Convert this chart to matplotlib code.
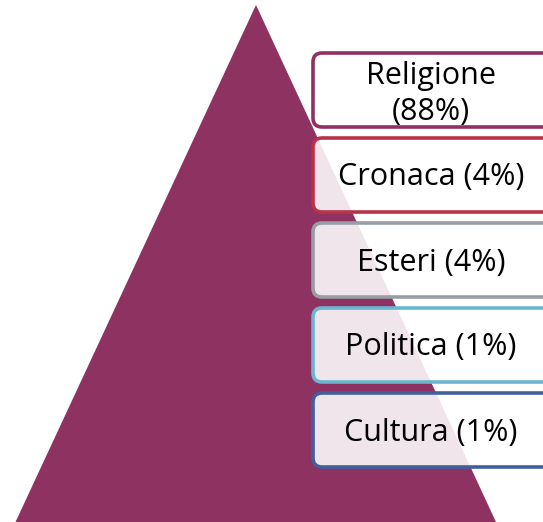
import matplotlib
matplotlib.use("Agg")
import matplotlib.pyplot as plt
from matplotlib.patches import Polygon, FancyBboxPatch

categories = ["Religione", "Cronaca", "Esteri", "Politica", "Cultura"]
percent = [88, 4, 4, 1, 1]
labels = ["Religione\n(88%)", "Cronaca (4%)", "Esteri (4%)", "Politica (1%)", "Cultura (1%)"]
border_colors = ["#8E3262", "#B83248", "#979EA6", "#6AB5D0", "#3F5F9F"]
tri_color = "#8E3262"

W, H = 543, 522
fig = plt.figure(figsize=(W / 100, H / 100), dpi=100)
ax = fig.add_axes([0, 0, 1, 1])
ax.set_xlim(0, W)
ax.set_ylim(H, 0)
ax.axis("off")

# pyramid
tri = Polygon([(256, 5), (15.5, 522), (496, 522)], closed=True,
              facecolor=tri_color, edgecolor="none")
ax.add_patch(tri)

# boxes
box_x0, box_w = 313, 240
box_y0, box_h, gap = 53, 74, 11
for i, (lab, col) in enumerate(zip(labels, border_colors)):
    y = box_y0 + i * (box_h + gap)
    p = FancyBboxPatch((box_x0, y), box_w, box_h,
                       boxstyle="round,pad=0,rounding_size=9",
                       facecolor=(1, 1, 1, 0.88), edgecolor=col, linewidth=2.6)
    ax.add_patch(p)
    ty = y + box_h / 2 + (4 if "\n" in lab else 2.5)
    ax.text(431, ty, lab, ha="center", va="center", fontsize=22,
            family=["Open Sans", "DejaVu Sans"], color="#000000",
            linespacing=1.3)

fig.savefig("out.png", dpi=100)
